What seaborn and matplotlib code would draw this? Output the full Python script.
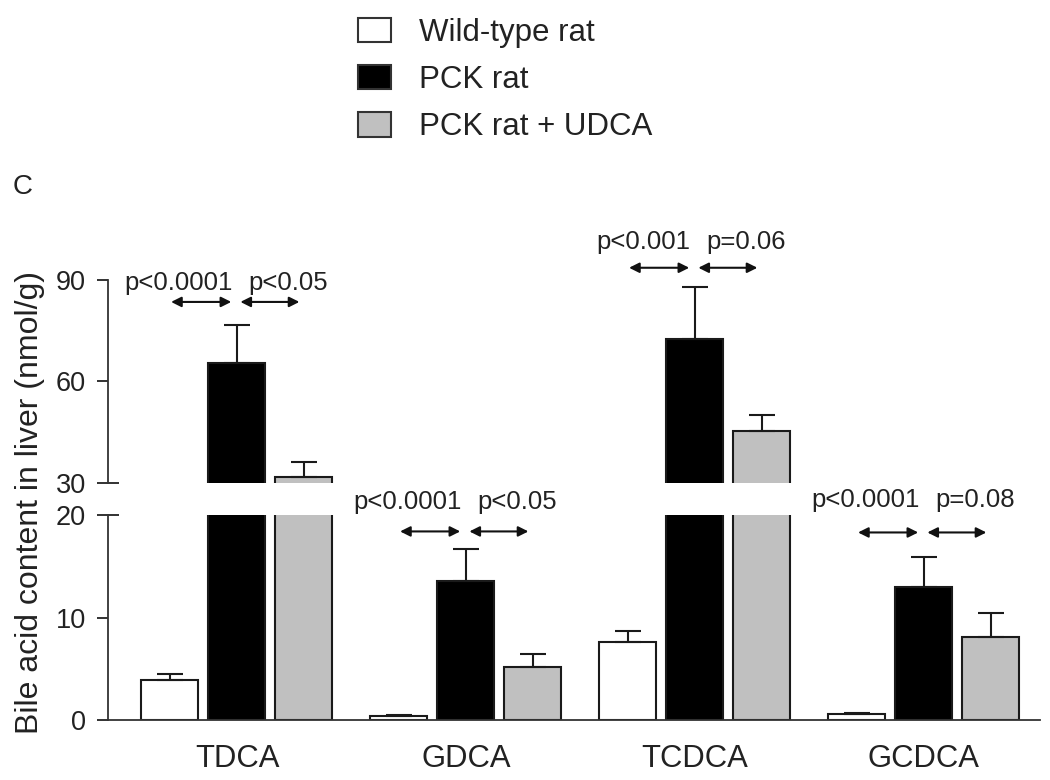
import numpy as np
import pandas as pd
import matplotlib
matplotlib.use('Agg')
import matplotlib.pyplot as plt
from matplotlib.patches import Patch
from matplotlib.container import BarContainer
import seaborn as sns

# values (nmol/g, mean and upper error)
acids = ['TDCA', 'GDCA', 'TCDCA', 'GCDCA']
groups = ['Wild-type rat', 'PCK rat', 'PCK rat + UDCA']
wt_mean = [3.9, 0.4, 7.6, 0.6]
wt_err = [0.6, 0.1, 1.1, 0.1]
pck_mean = [65.5, 13.6, 72.6, 13.0]
pck_err = [11.2, 3.1, 15.3, 2.9]
udca_mean = [31.8, 5.2, 45.4, 8.1]
udca_err = [4.4, 1.2, 4.7, 2.3]

# significance labels
p_left = ['p<0.0001', 'p<0.0001', 'p<0.001', 'p<0.0001']
p_right = ['p<0.05', 'p<0.05', 'p=0.06', 'p=0.08']
arrow_y = [83.5, 18.4, 93.6, 18.3]
label_y = [89.0, 21.3, 101.3, 21.5]
on_top = [True, False, True, False]

colors = ['white', 'black', '#c0c0c0']
ink = '#222222'

means = [wt_mean, pck_mean, udca_mean]
errs = [wt_err, pck_err, udca_err]
df = pd.DataFrame({
    'acid': acids * 3,
    'group': np.repeat(groups, len(acids)),
    'value': wt_mean + pck_mean + udca_mean,
})

sns.set_style('ticks')
plt.rcParams['font.family'] = ['Liberation Sans', 'DejaVu Sans']
plt.rcParams['text.color'] = ink
plt.rcParams['axes.labelcolor'] = ink
plt.rcParams['xtick.color'] = ink
plt.rcParams['ytick.color'] = ink

fig = plt.figure(figsize=(10.5, 7.8), dpi=100)
left, width = 0.1029, 0.8876
ax_top = fig.add_axes([left, 0.3808, width, 0.2603])
ax_bot = fig.add_axes([left, 0.0769, width, 0.2628])

centers = {}
for ax in (ax_top, ax_bot):
    sns.barplot(data=df, x='acid', y='value', hue='group', order=acids,
                hue_order=groups, palette=colors, edgecolor='#1a1a1a',
                linewidth=1.5, width=0.878, gap=0.15, errorbar=None,
                legend=False, ax=ax)
    bar_groups = [c for c in ax.containers if isinstance(c, BarContainer)]
    xs_all = []
    for cont in bar_groups:
        bars = sorted(cont.patches, key=lambda p: p.get_x())
        xs_all.append([b.get_x() + b.get_width() / 2 for b in bars])
    centers[ax] = xs_all
    # one-sided error bars on top of each bar
    for i, xs in enumerate(xs_all):
        ax.errorbar(xs, means[i], yerr=[np.zeros(len(xs)), errs[i]],
                    fmt='none', ecolor='#1a1a1a', elinewidth=1.5,
                    capsize=9.5, capthick=1.5, zorder=1)
    ax.set_xlim(-0.563, 3.507)
    ax.set_xlabel('')
    ax.set_ylabel('')
    ax.tick_params(axis='y', labelsize=19.5, length=8, width=1.3, pad=8)
    ax.spines['left'].set_linewidth(1.3)
    ax.spines['left'].set_color('#333333')
    sns.despine(ax=ax)

ax_top.set_ylim(30, 90)
ax_top.set_yticks([30, 60, 90])
ax_top.spines['bottom'].set_visible(False)
ax_top.set_xticks([])

ax_bot.set_ylim(0, 20)
ax_bot.set_yticks([0, 10, 20])
ax_bot.spines['bottom'].set_linewidth(1.3)
ax_bot.spines['bottom'].set_color('#333333')
ax_bot.tick_params(axis='x', length=0, labelsize=22.3, pad=17)

# ticks at the break cross the spine
for ax, idx in ((ax_top, 0), (ax_bot, 2)):
    t = ax.yaxis.get_major_ticks()[idx]
    t.tick1line.set_marker('_')
    t.tick1line.set_markersize(16)

# significance arrows
for k in range(len(acids)):
    ax = ax_top if on_top[k] else ax_bot
    x0, x1, x2 = [centers[ax][i][k] for i in range(3)]
    for a, b in ((x0 + 0.005, x1 - 0.025), (x1 + 0.015, x2 - 0.02)):
        ax.annotate('', xy=(b, arrow_y[k]), xytext=(a, arrow_y[k]),
                    arrowprops=dict(arrowstyle='<|-|>', color='#111111', lw=1.5,
                                    mutation_scale=15, shrinkA=0, shrinkB=0),
                    annotation_clip=False)
    ax.text(x1 - 0.018, label_y[k], p_left[k], ha='right', va='center',
            fontsize=18.5, clip_on=False)
    ax.text(x1 + 0.05, label_y[k], p_right[k], ha='left', va='center',
            fontsize=18.5, clip_on=False)

fig.text(30 / 1050, 1 - 503 / 780, 'Bile acid content in liver (nmol/g)',
         rotation=90, ha='center', va='center', fontsize=23)
fig.text(23 / 1050, 1 - 187 / 780, 'C', ha='center', va='center', fontsize=20)

handles = [Patch(facecolor=c, edgecolor='#333333', linewidth=1.5) for c in colors]
fig.legend(handles, groups, loc='upper left', bbox_to_anchor=(345 / 1050, 0.9935),
           frameon=False, fontsize=22.5, handlelength=1.06, handleheight=0.83,
           handletextpad=0.9, labelspacing=0.55, borderaxespad=0)

fig.savefig('out.png', dpi=100)
